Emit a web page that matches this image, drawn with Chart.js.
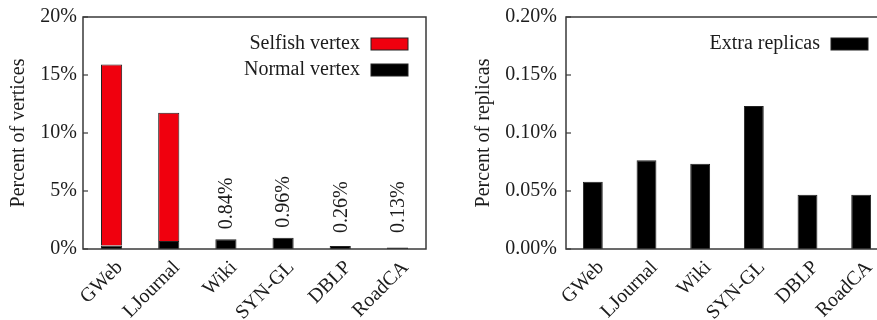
<!DOCTYPE html>
<html>
<head>
<meta charset="utf-8">
<script src="https://cdn.jsdelivr.net/npm/chart.js@4/dist/chart.umd.min.js"></script>
<style>
  html, body { margin: 0; padding: 0; background: #fff; overflow: hidden; }
  body { width: 877px; height: 320px; position: relative; }
  .box { position: absolute; top: 0; height: 320px; }
  #left { left: 0; width: 440px; }
  #right { left: 440px; width: 460px; }
</style>
</head>
<body>
<div class="box" id="left"><canvas id="vertexChart"></canvas></div>
<div class="box" id="right"><canvas id="replicaChart"></canvas></div>
<script>
  // data
  const graphs = ['GWeb', 'LJournal', 'Wiki', 'SYN-GL', 'DBLP', 'RoadCA'];
  const selfishPct = [15.6, 11.05, 0, 0, 0, 0];
  const normalPct = [0.3, 0.7, 0.84, 0.96, 0.26, 0.13];
  const smallLabels = ['', '', '0.84%', '0.96%', '0.26%', '0.13%'];
  const vertexTicks = [0, 5, 10, 15, 20];
  const extraReplicaPct = [0.058, 0.0765, 0.0735, 0.1233, 0.0468, 0.0468];
  const replicaTicks = [0, 0.05, 0.10, 0.15, 0.20];

  const FONT = "'Liberation Serif', 'Times New Roman', serif";
  const INK = '#1c1c1c';
  const FS = 20;
  Chart.defaults.font.family = FONT;
  Chart.defaults.color = INK;
  Chart.defaults.animation = false;
  Chart.defaults.responsive = true;
  Chart.defaults.maintainAspectRatio = false;

  // frame + small inward ticks on the left side
  const framePlugin = {
    id: 'frame',
    afterDraw(chart) {
      const { ctx, chartArea: a, scales } = chart;
      ctx.save();
      ctx.strokeStyle = '#3a3a3a';
      ctx.lineWidth = 1.5;
      ctx.strokeRect(a.left, a.top, a.right - a.left, a.bottom - a.top);
      ctx.lineWidth = 1.2;
      scales.y.ticks.forEach(t => {
        const y = scales.y.getPixelForValue(t.value);
        ctx.beginPath();
        ctx.moveTo(a.left, y);
        ctx.lineTo(a.left + 5, y);
        ctx.stroke();
      });
      ctx.restore();
    }
  };

  // legend drawn inside plot, text right-aligned, swatch on the right
  const innerLegend = {
    id: 'innerLegend',
    afterDraw(chart, args, opts) {
      const { ctx, chartArea: a } = chart;
      ctx.save();
      ctx.font = FS + 'px ' + FONT;
      ctx.textAlign = 'right';
      ctx.textBaseline = 'middle';
      const order = opts.order || chart.data.datasets.map((d, i) => i);
      order.forEach((di, row) => {
        const ds = chart.data.datasets[di];
        const y = a.top + opts.top + row * 26;
        const boxRight = a.right - opts.right;
        const boxLeft = boxRight - 37;
        ctx.fillStyle = ds.backgroundColor;
        ctx.fillRect(boxLeft, y - 6, 37, 12);
        ctx.strokeStyle = '#222';
        ctx.lineWidth = 1;
        ctx.strokeRect(boxLeft, y - 6, 37, 12);
        ctx.fillStyle = INK;
        ctx.fillText(ds.label, boxLeft - 11, y);
      });
      ctx.restore();
    }
  };

  // rotated value labels above the small bars
  const valueLabels = {
    id: 'valueLabels',
    afterDatasetsDraw(chart) {
      const { ctx, scales } = chart;
      ctx.save();
      ctx.font = FS + 'px ' + FONT;
      ctx.fillStyle = INK;
      ctx.textAlign = 'left';
      ctx.textBaseline = 'middle';
      smallLabels.forEach((txt, i) => {
        if (!txt) return;
        const x = scales.x.getPixelForValue(i);
        const top = scales.y.getPixelForValue(selfishPct[i] + normalPct[i]);
        const y = Math.min(top - 10, scales.y.getPixelForValue(0) - 16);
        ctx.save();
        ctx.translate(x + 1, y);
        ctx.rotate(-Math.PI / 2);
        ctx.fillText(txt, 0, 0);
        ctx.restore();
      });
      ctx.restore();
    }
  };

  function xAxis() {
    return {
      stacked: true,
      grid: { display: false, drawTicks: false },
      border: { display: false },
      ticks: {
        font: { size: FS },
        color: INK,
        minRotation: 45,
        maxRotation: 45,
        padding: 7,
        labelOffset: 8,
        autoSkip: false
      },
      afterFit(scale) { scale.height = 71; }
    };
  }

  // fixed y-axis width; keep tick padding from pushing the plot top down
  function fitY(width) {
    return scale => {
      scale.width = width;
      scale.paddingTop = 10;
      scale.paddingBottom = 10;
    };
  }

  new Chart(document.getElementById('vertexChart'), {
    type: 'bar',
    data: {
      labels: graphs,
      datasets: [
        {
          label: 'Normal vertex',
          data: normalPct,
          backgroundColor: '#000000',
          borderColor: '#222',
          borderWidth: 1,
          categoryPercentage: 1,
          barPercentage: 0.37
        },
        {
          label: 'Selfish vertex',
          data: selfishPct,
          backgroundColor: '#f0000e',
          borderColor: '#222',
          borderWidth: 1,
          categoryPercentage: 1,
          barPercentage: 0.37
        }
      ]
    },
    options: {
      layout: { padding: { top: 17, right: 14, left: 0, bottom: 0 } },
      plugins: {
        legend: { display: false },
        tooltip: { enabled: false },
        innerLegend: { top: 27, right: 18, order: [1, 0] }
      },
      scales: {
        x: xAxis(),
        y: {
          stacked: true,
          min: 0,
          max: 20,
          afterBuildTicks(scale) { scale.ticks = vertexTicks.map(v => ({ value: v })); },
          grid: { display: false, drawTicks: false },
          border: { display: false },
          ticks: {
            font: { size: FS },
            color: INK,
            padding: 6,
            callback: v => v + '%'
          },
          title: {
            display: true,
            text: 'Percent of vertices',
            font: { size: FS },
            color: INK,
            padding: { top: 7, bottom: 0 }
          },
          afterFit: fitY(83)
        }
      }
    },
    plugins: [framePlugin, innerLegend, valueLabels]
  });

  new Chart(document.getElementById('replicaChart'), {
    type: 'bar',
    data: {
      labels: graphs,
      datasets: [
        {
          label: 'Extra replicas',
          data: extraReplicaPct,
          backgroundColor: '#000000',
          borderColor: '#222',
          borderWidth: 1,
          categoryPercentage: 1,
          barPercentage: 0.37
        }
      ]
    },
    options: {
      layout: { padding: { top: 17, right: 12, left: 0, bottom: 0 } },
      plugins: {
        legend: { display: false },
        tooltip: { enabled: false },
        innerLegend: { top: 27, right: 20 }
      },
      scales: {
        x: xAxis(),
        y: {
          min: 0,
          max: 0.2,
          afterBuildTicks(scale) { scale.ticks = replicaTicks.map(v => ({ value: v })); },
          grid: { display: false, drawTicks: false },
          border: { display: false },
          ticks: {
            font: { size: FS },
            color: INK,
            padding: 9,
            callback: v => v.toFixed(2) + '%'
          },
          title: {
            display: true,
            text: 'Percent of replicas',
            font: { size: FS },
            color: INK,
            padding: { top: 32, bottom: 0 }
          },
          afterFit: fitY(126)
        }
      }
    },
    plugins: [framePlugin, innerLegend]
  });
</script>
</body>
</html>
